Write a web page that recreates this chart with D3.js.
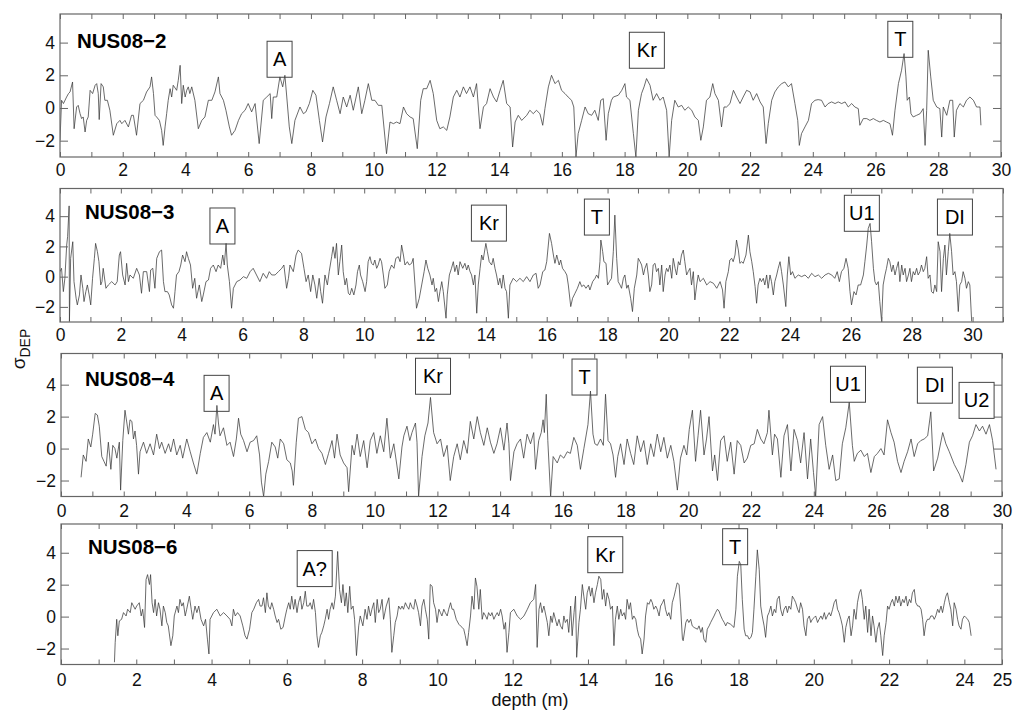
<!DOCTYPE html>
<html>
<head>
<meta charset="utf-8">
<script src="https://cdn.jsdelivr.net/npm/d3@7"></script>
<style>
  body { margin: 0; background: #fff; }
  svg { display: block; font-family: "Liberation Sans", Arial, sans-serif; }
</style>
</head>
<body>
<svg id="chart" width="1016" height="715"></svg>
<script>
// Standardised deposition signal (sigma_DEP) against depth (m), one series per core.
// Each entry: [depth, sigma].
const nus08_2 = [
[0.00,-1.98],[0.05,0.47],[0.11,0.27],[0.21,0.67],[0.27,0.88],[0.32,0.98],[0.40,1.59],[0.45,-1.27],[0.53,0.06],[0.58,0.16],
[0.64,-0.35],[0.69,-0.65],[0.74,-0.55],[0.80,-1.47],[0.85,-0.76],[0.90,-0.55],[0.96,1.08],[1.04,0.88],[1.12,1.39],[1.17,1.49],
[1.22,0.88],[1.25,-0.71],[1.31,1.49],[1.38,1.29],[1.43,0.47],[1.51,0.47],[1.59,-0.14],[1.70,-1.67],[1.81,-0.96],[1.91,-0.76],
[1.97,-0.96],[2.07,-0.76],[2.18,-1.16],[2.28,-0.45],[2.34,-0.45],[2.44,-1.67],[2.55,0.27],[2.66,0.47],[2.76,0.98],[2.87,1.29],
[2.92,1.90],[2.98,0.88],[3.03,-0.45],[3.08,-0.55],[3.17,-0.76],[3.24,-1.37],[3.29,-2.29],[3.35,-1.16],[3.40,-0.35],[3.45,0.47],
[3.51,1.18],[3.56,0.67],[3.61,1.39],[3.72,1.08],[3.77,1.69],[3.83,2.61],[3.88,0.27],[3.93,1.39],[3.99,0.67],[4.04,1.08],
[4.09,1.29],[4.14,0.88],[4.20,1.29],[4.30,0.47],[4.41,-1.27],[4.52,-0.76],[4.62,-0.55],[4.73,0.47],[4.84,0.47],[4.94,0.98],
[5.05,1.90],[5.10,0.88],[5.21,0.47],[5.29,-0.14],[5.40,-1.16],[5.47,-1.67],[5.58,-1.37],[5.69,-0.76],[5.79,-0.35],[5.90,-0.14],
[6.00,0.27],[6.11,-0.24],[6.22,0.27],[6.35,-2.18],[6.48,0.47],[6.59,0.67],[6.70,0.88],[6.75,-0.65],[6.80,0.67],[6.91,0.67],
[7.01,1.90],[7.10,1.29],[7.17,2.00],[7.23,0.67],[7.31,-1.16],[7.39,-2.18],[7.49,-0.76],[7.65,0.06],[7.76,-0.35],[7.84,-0.24],
[7.95,0.27],[8.06,1.08],[8.16,0.78],[8.27,-0.76],[8.37,-2.08],[8.48,-0.55],[8.59,0.27],[8.71,1.29],[8.82,0.47],[8.93,-0.35],
[9.03,0.67],[9.14,0.06],[9.25,0.78],[9.35,-0.14],[9.51,1.29],[9.62,-0.35],[9.72,0.47],[9.83,1.49],[9.94,0.47],[10.04,0.47],
[10.15,0.16],[10.26,0.16],[10.41,-2.80],[10.52,-0.86],[10.63,-0.96],[10.73,-0.86],[10.84,-0.96],[10.95,0.06],[11.05,-0.35],[11.16,-0.55],
[11.26,-0.65],[11.39,-2.49],[11.50,0.47],[11.58,1.18],[11.69,1.18],[11.80,1.69],[11.90,0.88],[12.01,-0.76],[12.11,-1.27],[12.22,-1.16],
[12.33,-1.37],[12.43,-0.55],[12.54,0.67],[12.65,1.08],[12.75,0.67],[12.86,1.29],[12.96,0.88],[13.07,1.29],[13.18,0.67],[13.28,1.49],
[13.39,-1.27],[13.50,0.06],[13.60,0.27],[13.71,1.18],[13.82,0.67],[13.92,0.37],[14.03,1.08],[14.13,1.69],[14.24,0.27],[14.35,0.06],
[14.43,-2.39],[14.51,-0.86],[14.61,-0.45],[14.72,-0.76],[14.88,-0.45],[14.98,-0.14],[15.09,-0.35],[15.19,-0.14],[15.30,-0.35],[15.39,-1.06],
[15.46,-0.04],[15.57,1.29],[15.67,2.00],[15.78,1.49],[15.89,1.69],[15.99,1.08],[16.10,0.88],[16.20,0.67],[16.31,0.47],[16.38,0.06],
[16.45,-3.0],[16.52,-1.57],[16.63,-0.76],[16.74,0.06],[16.84,-0.35],[16.95,-0.45],[17.05,-0.14],[17.16,-0.76],[17.24,0.47],[17.32,0.57],
[17.41,-1.98],[17.48,-0.35],[17.58,0.47],[17.64,0.67],[17.80,0.78],[17.91,1.08],[18.01,1.49],[18.06,0.67],[18.17,0.47],[18.28,-1.57],
[18.36,-3.0],[18.44,-0.14],[18.54,0.88],[18.62,1.29],[18.70,1.80],[18.81,1.39],[18.91,0.47],[19.02,0.88],[19.13,0.47],[19.23,0.67],
[19.34,-0.14],[19.42,-3.0],[19.50,-0.76],[19.60,0.47],[19.71,0.06],[19.82,0.16],[19.92,-0.14],[20.03,0.06],[20.14,-0.14],[20.24,-0.55],
[20.35,-0.76],[20.43,-1.98],[20.51,-1.16],[20.61,0.47],[20.72,0.67],[20.81,1.49],[20.88,0.88],[20.99,0.47],[21.09,-1.16],[21.17,0.06],
[21.25,0.06],[21.36,0.27],[21.47,1.08],[21.57,0.67],[21.68,0.27],[21.78,0.67],[21.89,1.08],[22.00,0.98],[22.10,0.47],[22.21,0.88],
[22.32,0.37],[22.42,0.06],[22.51,-2.18],[22.58,-0.96],[22.69,0.47],[22.79,0.98],[22.90,1.29],[23.01,1.49],[23.11,1.59],[23.22,1.29],
[23.32,1.49],[23.43,0.27],[23.52,-0.76],[23.57,-2.29],[23.64,-1.57],[23.75,-1.16],[23.86,-0.76],[23.96,0.27],[24.07,0.47],[24.17,0.51],
[24.28,0.47],[24.39,0.06],[24.49,0.27],[24.60,0.37],[24.71,0.27],[24.81,0.37],[24.92,0.27],[25.03,0.37],[25.13,0.06],[25.24,0.27],
[25.34,0.06],[25.45,-0.04],[25.50,-1.06],[25.61,-0.65],[25.72,-0.65],[25.82,-0.76],[25.93,-0.65],[26.03,-0.76],[26.14,-0.86],[26.25,-0.76],
[26.35,-0.86],[26.46,-0.96],[26.54,-1.67],[26.62,-0.14],[26.73,1.49],[26.83,2.31],[26.91,3.33],[26.97,1.90],[27.01,0.47],[27.08,0.67],
[27.13,-0.35],[27.20,-0.55],[27.31,-0.45],[27.42,-0.35],[27.52,-0.04],[27.58,-2.29],[27.63,-0.14],[27.68,3.53],[27.76,1.90],[27.84,0.47],
[27.95,0.06],[28.05,-0.04],[28.11,-1.78],[28.16,0.06],[28.27,-0.45],[28.37,0.47],[28.46,0.47],[28.51,-1.78],[28.58,-0.14],[28.69,0.27],
[28.80,0.06],[28.90,0.47],[29.01,0.67],[29.12,0.47],[29.22,0.06],[29.33,0.06],[29.36,-1.06]
];

const nus08_3 = [
[0.00,0.33],[0.05,0.55],[0.11,-0.99],[0.16,-0.11],[0.22,2.09],[0.25,2.64],[0.30,4.68],[0.31,-2.97],[0.35,1.21],[0.42,2.31],
[0.46,-0.33],[0.53,-1.43],[0.57,-1.87],[0.64,-1.21],[0.69,0.11],[0.75,-0.77],[0.79,-1.65],[0.85,-0.99],[0.90,-0.55],[0.96,-1.21],
[1.01,-1.87],[1.07,-0.11],[1.13,1.21],[1.17,2.20],[1.23,1.65],[1.28,0.99],[1.34,-0.55],[1.38,-0.33],[1.42,0.55],[1.51,-0.77],
[1.59,-0.55],[1.70,-0.33],[1.81,-0.55],[1.88,-0.33],[1.95,1.43],[1.99,1.65],[2.06,0.11],[2.14,-0.55],[2.19,0.88],[2.25,-0.33],
[2.30,0.11],[2.41,-0.11],[2.52,0.55],[2.61,0.11],[2.68,-1.10],[2.74,0.33],[2.85,0.33],[2.94,-0.99],[2.98,0.44],[3.05,0.55],
[3.12,-0.77],[3.18,1.21],[3.27,1.65],[3.34,1.76],[3.40,-0.33],[3.45,-0.99],[3.53,-0.99],[3.59,-1.21],[3.67,-1.87],[3.73,-2.09],
[3.78,-0.99],[3.83,0.11],[3.91,0.33],[3.97,0.77],[4.03,1.43],[4.11,0.99],[4.16,1.65],[4.22,1.21],[4.29,0.77],[4.36,-0.77],
[4.43,-0.11],[4.49,-1.43],[4.58,-0.55],[4.66,-1.65],[4.71,-1.21],[4.80,-0.33],[4.88,-0.22],[4.95,0.55],[5.04,0.77],[5.13,0.33],
[5.20,0.77],[5.28,0.55],[5.35,1.43],[5.40,0.77],[5.46,2.20],[5.50,0.77],[5.57,-0.33],[5.64,-2.09],[5.70,-0.77],[5.81,-0.33],
[5.92,-0.22],[6.03,0.00],[6.14,-0.11],[6.25,0.33],[6.35,0.55],[6.46,0.11],[6.57,-0.33],[6.68,0.22],[6.79,-0.11],[6.88,0.33],
[6.96,0.11],[7.07,0.11],[7.18,0.33],[7.29,0.55],[7.36,0.77],[7.45,-0.77],[7.51,-0.11],[7.56,0.77],[7.67,0.33],[7.76,1.43],
[7.83,1.76],[7.94,1.54],[8.02,0.55],[8.09,-0.33],[8.16,0.11],[8.24,-0.99],[8.31,0.11],[8.38,-0.55],[8.44,-1.43],[8.52,-0.11],
[8.57,-0.99],[8.63,-1.76],[8.71,0.11],[8.79,-0.55],[8.85,0.33],[8.93,1.32],[8.98,1.98],[9.04,1.21],[9.09,2.20],[9.15,0.11],
[9.20,0.99],[9.26,2.09],[9.31,0.33],[9.37,-0.55],[9.42,-0.11],[9.48,-1.10],[9.53,-1.21],[9.59,-0.77],[9.66,-1.21],[9.73,-0.55],
[9.78,0.33],[9.84,0.77],[9.88,0.11],[9.95,-0.33],[10.03,-0.99],[10.08,-0.33],[10.13,0.99],[10.19,1.32],[10.24,0.88],[10.30,0.77],
[10.35,1.10],[10.41,0.55],[10.46,0.77],[10.52,1.21],[10.57,0.99],[10.63,0.11],[10.68,-0.77],[10.76,-0.55],[10.82,0.33],[10.90,0.77],
[10.98,0.55],[11.04,1.21],[11.12,1.32],[11.18,0.99],[11.23,2.09],[11.29,1.43],[11.34,0.77],[11.42,0.99],[11.48,0.77],[11.56,0.88],
[11.61,1.21],[11.67,-0.55],[11.72,-2.09],[11.81,-1.43],[11.89,-0.55],[11.97,0.33],[12.03,1.10],[12.09,0.55],[12.16,0.11],[12.23,-0.55],
[12.27,-0.11],[12.33,-0.99],[12.38,-0.77],[12.44,-1.65],[12.49,-0.99],[12.55,-0.33],[12.60,-0.99],[12.69,-2.75],[12.73,-1.21],[12.80,0.11],
[12.87,0.55],[12.93,0.99],[12.98,0.33],[13.04,0.77],[13.09,0.11],[13.15,0.99],[13.24,0.55],[13.31,0.88],[13.37,0.44],[13.42,0.77],
[13.48,0.33],[13.53,0.11],[13.59,-0.55],[13.64,0.11],[13.70,-2.42],[13.75,-0.55],[13.81,0.55],[13.86,1.43],[13.91,1.10],[14.00,2.20],
[14.05,1.65],[14.11,0.99],[14.19,0.77],[14.24,1.21],[14.30,0.55],[14.35,0.11],[14.41,-0.55],[14.46,-0.11],[14.52,-0.77],[14.57,0.11],
[14.63,-0.77],[14.68,-0.99],[14.74,-2.75],[14.79,-0.55],[14.90,-0.11],[15.01,-0.33],[15.12,-0.11],[15.23,-0.33],[15.34,0.00],[15.45,-0.33],
[15.56,0.11],[15.65,0.22],[15.72,-0.77],[15.78,-0.55],[15.87,0.33],[15.94,0.44],[16.00,0.99],[16.09,2.86],[16.16,2.20],[16.22,1.43],
[16.27,0.88],[16.33,1.43],[16.41,0.77],[16.46,1.10],[16.52,0.55],[16.60,0.33],[16.66,0.11],[16.71,-0.55],[16.79,-1.98],[16.85,-1.43],
[16.93,-1.10],[17.01,-0.77],[17.09,-0.33],[17.15,-0.66],[17.22,-0.55],[17.29,-0.77],[17.37,-0.55],[17.42,-0.88],[17.51,-0.33],[17.59,-0.11],
[17.64,0.11],[17.70,-0.11],[17.75,0.99],[17.78,2.42],[17.84,1.65],[17.88,0.99],[17.95,0.88],[18.00,-0.55],[18.06,-0.33],[18.13,-0.11],
[18.19,1.65],[18.24,4.07],[18.30,1.21],[18.35,-0.33],[18.41,-0.55],[18.46,-0.77],[18.52,-0.11],[18.57,0.11],[18.63,-0.77],[18.68,-0.55],
[18.76,-1.43],[18.82,-2.31],[18.88,-0.77],[18.96,0.11],[19.01,1.21],[19.07,0.99],[19.12,0.77],[19.18,0.11],[19.23,0.55],[19.29,0.88],
[19.34,0.11],[19.39,-0.99],[19.45,-0.55],[19.50,0.77],[19.56,0.88],[19.61,0.33],[19.67,0.55],[19.72,-0.55],[19.78,0.77],[19.83,-0.99],
[19.89,0.11],[19.94,0.55],[19.99,0.33],[20.05,0.77],[20.11,-0.11],[20.16,1.21],[20.22,0.55],[20.27,0.11],[20.33,0.99],[20.38,0.77],
[20.43,1.43],[20.49,1.76],[20.54,0.99],[20.60,0.11],[20.65,0.33],[20.71,0.55],[20.76,-0.55],[20.82,0.33],[20.87,-1.54],[20.93,-0.55],
[20.98,0.11],[21.04,-0.33],[21.15,-0.11],[21.26,-0.55],[21.37,-0.33],[21.48,-0.44],[21.59,-0.77],[21.70,-0.33],[21.78,-0.88],[21.83,-2.09],
[21.89,-0.33],[21.97,0.33],[22.02,1.10],[22.08,1.21],[22.13,0.99],[22.19,1.43],[22.24,2.42],[22.30,1.76],[22.35,0.88],[22.41,0.99],
[22.46,0.88],[22.55,1.43],[22.63,2.75],[22.68,1.65],[22.74,0.99],[22.79,0.33],[22.85,-0.66],[22.90,-1.76],[22.95,-0.55],[23.01,-0.11],
[23.06,-0.33],[23.12,-0.11],[23.17,-0.55],[23.23,0.11],[23.28,-0.77],[23.34,0.11],[23.39,-0.33],[23.45,-1.21],[23.50,-0.33],[23.56,0.11],
[23.61,0.55],[23.67,0.99],[23.72,0.33],[23.78,-0.55],[23.86,-1.98],[23.91,0.11],[23.96,1.32],[24.02,0.11],[24.08,0.33],[24.16,-0.11],
[24.27,0.11],[24.38,0.00],[24.49,0.11],[24.60,-0.11],[24.71,0.22],[24.82,0.00],[24.93,0.11],[25.04,-0.11],[25.15,0.11],[25.26,0.22],
[25.37,0.11],[25.47,-0.11],[25.55,0.33],[25.62,-0.33],[25.69,0.33],[25.77,0.55],[25.84,1.21],[25.91,0.55],[25.97,-0.99],[26.02,-1.87],
[26.10,-0.99],[26.17,-1.21],[26.24,-0.55],[26.32,-0.55],[26.41,0.11],[26.46,0.99],[26.52,2.09],[26.57,3.19],[26.63,3.52],[26.68,2.31],
[26.74,0.55],[26.79,-0.33],[26.84,-0.55],[26.90,-0.33],[26.95,-1.65],[27.01,-2.97],[27.06,-0.55],[27.12,0.11],[27.17,0.55],[27.23,1.21],
[27.28,0.99],[27.34,0.33],[27.39,0.77],[27.45,0.11],[27.50,0.55],[27.56,0.99],[27.61,-0.33],[27.67,0.77],[27.72,0.11],[27.78,0.55],
[27.83,-0.33],[27.89,0.11],[27.94,0.55],[27.99,-0.33],[28.05,0.33],[28.10,0.11],[28.16,0.55],[28.21,0.11],[28.27,0.33],[28.32,0.77],
[28.38,0.33],[28.43,0.55],[28.49,1.32],[28.54,-0.11],[28.60,0.11],[28.65,-0.99],[28.71,-1.10],[28.76,-0.55],[28.82,-0.99],[28.87,2.31],
[28.93,1.65],[28.98,-0.99],[29.04,1.21],[29.09,2.09],[29.14,0.11],[29.20,1.65],[29.25,2.86],[29.31,1.65],[29.36,0.11],[29.42,0.33],
[29.47,-0.33],[29.53,-2.31],[29.58,-0.55],[29.64,-0.33],[29.69,0.33],[29.75,-0.11],[29.80,-0.77],[29.86,-0.33],[29.91,-0.55],[29.97,-2.97]
];

const nus08_4 = [
[0.64,-1.8],[0.71,-0.4],[0.80,-0.8],[0.87,0.6],[0.95,0.1],[1.01,0.9],[1.09,2.2],[1.16,2.1],[1.22,1.4],[1.30,-0.5],
[1.37,-0.8],[1.44,-1.1],[1.51,0.4],[1.59,-1.3],[1.65,0.2],[1.72,0.0],[1.78,-0.6],[1.86,0.4],[1.90,-2.6],[1.97,0.5],
[2.04,2.4],[2.10,1.6],[2.15,0.9],[2.20,1.8],[2.26,1.7],[2.31,0.6],[2.36,1.1],[2.41,0.2],[2.47,-1.6],[2.52,-0.2],
[2.63,0.4],[2.73,-0.3],[2.84,0.3],[2.95,-0.4],[3.05,0.9],[3.14,0.0],[3.21,0.4],[3.32,-0.3],[3.43,0.3],[3.50,-0.2],
[3.59,0.6],[3.69,-0.4],[3.80,0.2],[3.88,-0.6],[4.01,0.6],[4.12,-0.2],[4.22,-0.9],[4.33,-1.6],[4.44,-0.3],[4.54,0.7],
[4.65,1.0],[4.76,0.4],[4.86,1.5],[4.91,0.9],[4.97,2.7],[5.02,1.6],[5.07,0.8],[5.18,1.3],[5.29,0.2],[5.39,0.4],
[5.50,-0.5],[5.59,0.6],[5.66,1.9],[5.73,0.9],[5.82,0.5],[5.93,-0.2],[6.03,0.4],[6.14,0.5],[6.24,0.8],[6.33,-0.4],
[6.39,-2.1],[6.46,-3.0],[6.53,-1.6],[6.62,-0.8],[6.72,0.4],[6.83,0.1],[6.91,-0.6],[6.99,0.6],[7.10,0.3],[7.20,-0.7],
[7.31,-0.9],[7.37,-1.4],[7.41,-2.3],[7.50,0.4],[7.57,1.9],[7.68,2.0],[7.79,1.2],[7.89,1.0],[8.00,0.3],[8.11,0.6],
[8.21,0.0],[8.32,-0.3],[8.43,-1.0],[8.53,-0.3],[8.64,0.5],[8.72,-0.6],[8.80,0.9],[8.90,-0.4],[9.01,-0.9],[9.12,-1.2],
[9.17,-2.7],[9.28,0.2],[9.35,-0.4],[9.44,0.9],[9.54,-0.5],[9.65,0.5],[9.76,-1.2],[9.86,0.5],[9.97,1.0],[10.07,-0.3],
[10.18,0.8],[10.29,-0.2],[10.39,1.9],[10.50,-0.6],[10.61,0.3],[10.77,-1.9],[10.87,0.1],[10.93,0.8],[11.03,1.4],[11.12,0.5],
[11.19,1.0],[11.30,1.6],[11.35,0.4],[11.40,-3.0],[11.51,-0.5],[11.60,0.8],[11.70,1.6],[11.78,3.2],[11.88,1.0],[11.99,0.3],
[12.10,0.6],[12.20,-0.5],[12.31,0.2],[12.41,-2.0],[12.52,-0.5],[12.63,0.3],[12.73,-0.7],[12.84,0.5],[12.95,-0.3],[13.05,1.7],
[13.16,0.6],[13.27,2.0],[13.37,1.0],[13.48,0.2],[13.59,1.3],[13.69,0.4],[13.80,-0.3],[13.90,0.3],[14.01,1.3],[14.12,-0.1],
[14.22,1.6],[14.28,0.3],[14.33,-2.0],[14.44,-0.2],[14.54,0.3],[14.65,0.6],[14.75,-0.6],[14.86,0.9],[14.97,0.3],[15.07,1.0],
[15.13,-1.3],[15.23,0.5],[15.31,1.0],[15.37,1.8],[15.41,1.0],[15.47,3.4],[15.52,0.5],[15.61,-3.0],[15.69,-0.5],[15.82,-0.9],
[15.92,-0.4],[16.03,-0.6],[16.14,-0.2],[16.24,-0.3],[16.35,0.7],[16.46,0.2],[16.56,-1.3],[16.67,0.0],[16.80,1.5],[16.88,3.6],
[16.96,0.9],[17.02,0.3],[17.10,0.2],[17.20,0.6],[17.29,0.2],[17.36,3.4],[17.44,0.5],[17.52,0.3],[17.60,-0.4],[17.68,-1.8],
[17.75,-0.5],[17.84,0.3],[17.95,-1.0],[18.05,0.6],[18.16,-0.3],[18.26,-1.0],[18.37,0.8],[18.48,-0.2],[18.58,0.5],[18.69,-1.0],
[18.80,0.3],[18.90,-0.5],[19.01,0.9],[19.12,-0.2],[19.22,0.7],[19.33,-0.6],[19.44,0.2],[19.54,-0.8],[19.65,-2.6],[19.75,-0.6],
[19.86,0.2],[19.95,-0.4],[20.03,1.2],[20.13,2.4],[20.23,-0.8],[20.31,0.8],[20.39,2.4],[20.50,-0.4],[20.58,0.6],[20.66,2.0],
[20.77,-1.4],[20.84,-0.4],[20.93,-2.0],[21.03,0.5],[21.14,0.8],[21.24,-0.8],[21.35,0.4],[21.46,-1.6],[21.56,0.5],[21.67,0.2],
[21.78,-0.9],[21.88,-0.6],[21.99,0.2],[22.10,0.3],[22.20,1.2],[22.31,0.6],[22.41,0.3],[22.52,1.0],[22.57,2.4],[22.68,-0.4],
[22.75,0.9],[22.84,0.6],[22.95,-1.8],[23.05,0.8],[23.16,1.5],[23.27,-1.4],[23.37,1.2],[23.48,0.5],[23.58,-0.9],[23.69,1.0],
[23.80,-1.9],[23.90,0.6],[23.99,-1.5],[24.06,-3.0],[24.17,1.5],[24.28,2.0],[24.38,0.2],[24.49,-1.3],[24.60,-0.4],[24.70,-2.0],
[24.81,-1.9],[24.91,0.3],[25.02,1.3],[25.13,2.9],[25.23,0.2],[25.29,-0.8],[25.39,-0.3],[25.50,-0.1],[25.61,-0.5],[25.71,-0.3],
[25.82,-1.5],[25.93,-0.5],[26.03,-0.3],[26.14,0.0],[26.24,-0.4],[26.35,1.8],[26.46,1.0],[26.56,0.4],[26.67,-0.8],[26.78,-1.5],
[26.88,-0.8],[26.99,-0.2],[27.10,0.6],[27.20,-0.5],[27.31,0.3],[27.41,0.5],[27.52,0.6],[27.63,0.8],[27.73,2.3],[27.82,-1.4],
[27.95,-0.6],[28.11,1.0],[28.21,0.3],[28.32,-0.2],[28.48,-1.0],[28.64,-1.6],[28.74,-2.1],[28.85,-1.0],[28.96,0.4],[29.06,0.8],
[29.17,1.5],[29.28,1.1],[29.38,1.4],[29.49,0.9],[29.60,1.5],[29.70,0.5],[29.81,-1.3]
];

const nus08_6 = [
[1.42,-2.86],[1.44,-1.61],[1.48,-0.17],[1.51,-1.20],[1.55,-0.27],[1.61,-0.17],[1.66,0.25],[1.73,0.04],[1.77,0.46],[1.84,0.25],
[1.88,0.87],[1.97,0.46],[2.01,0.66],[2.08,0.87],[2.13,0.04],[2.17,0.46],[2.22,-0.68],[2.26,2.32],[2.30,2.63],[2.35,2.01],
[2.38,2.63],[2.42,0.87],[2.46,0.25],[2.50,1.08],[2.54,0.04],[2.59,0.87],[2.63,0.46],[2.68,-0.58],[2.72,0.66],[2.77,0.25],
[2.81,-0.37],[2.85,-0.58],[2.92,-1.82],[2.97,-1.20],[3.01,0.04],[3.08,0.66],[3.12,0.25],[3.16,1.08],[3.21,0.66],[3.25,0.87],
[3.30,0.04],[3.34,0.46],[3.41,1.28],[3.46,0.46],[3.50,-0.17],[3.56,0.66],[3.61,0.25],[3.66,0.66],[3.72,-0.17],[3.79,-0.58],
[3.84,-0.17],[3.89,-1.41],[3.93,-2.34],[3.96,-0.17],[4.05,0.25],[4.14,0.46],[4.23,0.04],[4.32,0.25],[4.41,0.04],[4.49,-0.17],
[4.54,-0.58],[4.58,0.46],[4.63,0.04],[4.69,0.25],[4.76,0.04],[4.83,-0.58],[4.89,-1.20],[4.94,-1.41],[5.01,-0.79],[5.07,0.25],
[5.12,0.46],[5.19,0.87],[5.25,1.08],[5.29,0.66],[5.34,0.66],[5.38,1.18],[5.43,0.25],[5.47,1.49],[5.51,0.66],[5.56,0.46],
[5.60,0.87],[5.65,0.46],[5.69,0.04],[5.74,-0.37],[5.78,-0.17],[5.84,-0.79],[5.90,-0.68],[5.96,0.04],[6.00,0.46],[6.05,0.87],
[6.09,0.46],[6.13,1.28],[6.18,0.46],[6.22,1.08],[6.27,0.25],[6.31,0.87],[6.36,1.28],[6.40,0.46],[6.45,0.87],[6.49,1.59],
[6.53,0.66],[6.58,0.66],[6.62,0.87],[6.67,0.46],[6.71,1.08],[6.76,0.25],[6.80,-1.20],[6.84,-1.93],[6.89,-1.20],[6.93,-0.99],
[6.98,-0.58],[7.02,-0.17],[7.07,0.46],[7.11,-0.17],[7.15,0.46],[7.20,0.87],[7.24,0.46],[7.29,1.28],[7.35,4.08],[7.40,1.70],
[7.45,0.87],[7.49,2.01],[7.54,0.66],[7.58,1.49],[7.62,0.25],[7.67,1.90],[7.71,0.46],[7.76,0.66],[7.80,-0.17],[7.85,-2.44],
[7.91,-0.58],[7.95,0.04],[8.02,-0.58],[8.08,0.46],[8.13,-0.17],[8.17,0.66],[8.22,0.04],[8.26,0.46],[8.31,0.87],[8.35,-0.37],
[8.40,1.08],[8.44,0.25],[8.48,0.46],[8.53,1.08],[8.57,-0.17],[8.64,0.66],[8.71,1.18],[8.75,-0.17],[8.79,-2.24],[8.84,-1.20],
[8.88,-0.37],[8.93,0.04],[8.97,0.66],[9.02,0.46],[9.06,0.66],[9.10,0.46],[9.15,0.87],[9.19,0.66],[9.24,0.46],[9.28,0.87],
[9.33,0.56],[9.37,0.46],[9.41,1.08],[9.46,0.66],[9.50,0.25],[9.55,-0.58],[9.59,0.66],[9.64,1.08],[9.68,0.46],[9.73,-0.17],
[9.77,-1.41],[9.81,2.01],[9.86,1.90],[9.90,0.87],[9.95,0.46],[9.99,-0.37],[10.04,0.46],[10.08,0.25],[10.12,0.04],[10.17,0.46],
[10.21,0.25],[10.26,0.04],[10.30,0.46],[10.35,0.87],[10.39,0.46],[10.43,0.46],[10.50,-0.17],[10.57,-0.48],[10.61,-0.58],[10.66,-0.68],
[10.70,-0.79],[10.74,-1.20],[10.79,-1.82],[10.83,-0.99],[10.88,0.04],[10.92,1.28],[10.97,0.46],[11.01,2.42],[11.05,1.90],[11.10,0.46],
[11.14,1.70],[11.19,-0.17],[11.23,0.25],[11.28,0.04],[11.32,-0.17],[11.36,0.25],[11.41,0.04],[11.45,0.25],[11.50,-0.17],[11.54,0.04],
[11.59,0.25],[11.63,0.04],[11.68,0.46],[11.72,0.04],[11.77,-0.79],[11.81,-0.37],[11.85,-2.24],[11.90,-0.99],[11.94,0.25],[12.03,0.46],
[12.12,0.04],[12.21,-0.17],[12.30,0.04],[12.39,0.46],[12.47,0.87],[12.56,1.08],[12.61,2.01],[12.65,-1.93],[12.70,0.46],[12.74,0.87],
[12.78,0.25],[12.83,0.66],[12.92,-0.37],[12.96,-1.20],[13.01,0.04],[13.05,-0.37],[13.09,0.25],[13.18,-0.58],[13.23,-0.17],[13.27,-0.58],
[13.32,-0.79],[13.36,0.04],[13.40,-0.37],[13.45,-0.17],[13.49,-0.99],[13.54,0.66],[13.58,-1.20],[13.63,0.25],[13.67,1.28],[13.70,-2.55],
[13.76,-0.37],[13.80,0.46],[13.85,2.01],[13.89,1.28],[13.94,0.46],[13.98,1.49],[14.03,1.90],[14.07,1.28],[14.11,1.80],[14.16,0.87],
[14.20,1.49],[14.25,2.01],[14.29,2.53],[14.34,2.32],[14.38,1.08],[14.42,1.70],[14.47,0.66],[14.51,1.49],[14.56,1.08],[14.60,0.46],
[14.65,0.66],[14.69,-1.82],[14.73,-0.17],[14.78,0.66],[14.82,-0.17],[14.87,0.46],[14.91,0.04],[14.96,0.25],[15.00,-0.17],[15.04,1.08],
[15.09,0.46],[15.13,0.87],[15.18,-0.17],[15.22,0.04],[15.27,-0.17],[15.31,-0.79],[15.35,-1.20],[15.40,-1.41],[15.44,-2.34],[15.49,-1.41],
[15.53,0.04],[15.58,0.87],[15.62,0.77],[15.67,1.08],[15.71,0.87],[15.75,0.46],[15.80,0.66],[15.84,0.46],[15.89,0.04],[15.93,0.66],
[15.98,0.87],[16.02,1.08],[16.06,0.46],[16.11,0.04],[16.15,0.25],[16.20,-0.17],[16.24,0.87],[16.29,1.28],[16.33,1.70],[16.37,2.11],
[16.42,2.01],[16.46,0.66],[16.51,-1.41],[16.53,-1.51],[16.60,-0.37],[16.64,-0.17],[16.68,-0.37],[16.73,-0.17],[16.77,-0.58],[16.82,-0.68],
[16.91,-0.79],[16.95,-0.58],[17.00,-0.99],[17.04,-0.68],[17.08,-1.41],[17.13,-1.61],[17.17,-0.79],[17.22,-0.58],[17.26,-0.37],[17.35,0.04],
[17.39,0.25],[17.44,0.46],[17.48,0.35],[17.53,0.04],[17.57,-0.17],[17.62,-0.37],[17.66,-0.58],[17.70,-0.37],[17.79,-0.48],[17.88,-0.68],
[17.93,0.46],[17.97,2.53],[18.02,3.46],[18.06,3.25],[18.10,1.08],[18.15,-0.79],[18.19,-1.20],[18.24,-1.20],[18.28,-1.41],[18.33,-1.30],
[18.37,-0.99],[18.41,0.46],[18.46,2.53],[18.50,4.18],[18.55,2.94],[18.59,0.66],[18.63,0.04],[18.68,-0.58],[18.72,-1.30],[18.77,0.04],
[18.81,0.25],[18.86,0.66],[18.90,0.04],[18.95,0.46],[18.99,0.25],[19.03,1.08],[19.08,1.28],[19.12,0.46],[19.17,0.04],[19.21,0.46],
[19.26,0.66],[19.30,0.25],[19.34,0.66],[19.39,0.46],[19.43,1.28],[19.48,1.08],[19.52,0.87],[19.57,0.46],[19.61,0.25],[19.65,0.87],
[19.70,0.46],[19.74,-0.58],[19.79,-1.20],[19.83,-0.17],[19.88,0.04],[19.92,-0.37],[19.96,-0.17],[20.01,-0.06],[20.05,0.04],[20.10,-0.37],
[20.14,-0.17],[20.19,0.04],[20.23,-0.17],[20.28,0.25],[20.32,-0.17],[20.36,0.04],[20.41,0.25],[20.45,0.04],[20.50,0.46],[20.54,0.87],
[20.59,1.08],[20.63,0.46],[20.67,0.25],[20.72,-0.17],[20.76,-0.58],[20.81,-1.61],[20.85,-0.68],[20.90,-0.17],[20.94,0.04],[20.99,-1.20],
[21.03,-0.58],[21.07,0.46],[21.12,-0.17],[21.16,0.87],[21.21,1.49],[21.25,1.70],[21.29,1.08],[21.34,-0.17],[21.38,0.66],[21.43,-0.99],
[21.47,0.46],[21.52,-1.20],[21.56,0.04],[21.60,-0.58],[21.65,-1.61],[21.69,-0.79],[21.74,-0.37],[21.78,-1.20],[21.83,-2.44],[21.87,-1.20],
[21.92,-0.37],[21.96,0.66],[22.00,0.46],[22.05,0.87],[22.09,1.08],[22.14,0.66],[22.18,1.28],[22.23,0.87],[22.27,1.28],[22.31,0.66],
[22.36,1.08],[22.40,0.87],[22.45,1.28],[22.49,0.66],[22.54,1.08],[22.58,0.87],[22.62,1.49],[22.67,1.70],[22.71,0.87],[22.76,0.66],
[22.80,0.66],[22.85,0.46],[22.89,-0.17],[22.93,-1.20],[22.98,-0.37],[23.02,-0.17],[23.07,-0.17],[23.11,0.04],[23.16,0.04],[23.20,-0.17],
[23.24,0.04],[23.29,0.46],[23.33,0.25],[23.38,0.66],[23.42,0.25],[23.47,0.87],[23.51,1.28],[23.55,1.49],[23.60,0.87],[23.64,0.46],
[23.69,-0.58],[23.73,0.87],[23.78,0.46],[23.82,-0.17],[23.86,-0.58],[23.91,-0.79],[23.95,-0.17],[24.00,0.04],[24.04,-0.06],[24.09,-0.17],
[24.13,-0.37],[24.18,-1.20]
];

// Event labels per core: [text, depth of the box centre, sigma at the box's lower edge]
const marks2 = [["A", 7.0, 1.88], ["Kr", 18.71, 2.43], ["T", 26.79, 3.1]];
const marks3 = [["A", 5.34, 2.16], ["Kr", 14.1, 2.35], ["T", 17.65, 2.75], ["U1", 26.36, 3.0], ["DI", 29.42, 2.75]];
const marks4 = [["A", 4.96, 2.33], ["Kr", 11.86, 3.4], ["T", 16.69, 3.35], ["U1", 25.09, 2.9], ["DI", 27.86, 2.84], ["U2", 29.19, 1.89]];
const marks6 = [["A?", 6.74, 1.88], ["Kr", 14.46, 2.75], ["T", 17.91, 3.25]];

const coreNames = ["NUS08-2", "NUS08-3", "NUS08-4", "NUS08-6"];
const depthLimits = [30, 31, 30, 25];
const sigmaTicks = [-2, 0, 2, 4];
const sigmaMin = -3;
const yLabelMain = "σ";
const yLabelSub = "DEP";
const xLabel = "depth (m)";

const seriesList = [nus08_2, nus08_3, nus08_4, nus08_6];
const markList = [marks2, marks3, marks4, marks6];

// Panel frames (pixel boxes) and the sigma value reached at each frame's top edge
const frames = [
  { left: 60, right: 1001, top: 14,    bottom: 157,   sigmaTop: 5.75, labelPad: 7 },
  { left: 60, right: 1003, top: 188.5, bottom: 322,   sigmaTop: 5.83, labelPad: 7 },
  { left: 61, right: 1002, top: 353.5, bottom: 496.5, sigmaTop: 5.95, labelPad: 8 },
  { left: 61, right: 1002, top: 524,   bottom: 664.5, sigmaTop: 5.8,  labelPad: 9 }
];
const titleOffsets = [[17, 34], [25, 30], [24, 32], [27, 30]];

const svg = d3.select("#chart");
const axisColor = "#666";
const textColor = "#111";

frames.forEach((f, i) => {
  const xMax = depthLimits[i];
  const x = d3.scaleLinear().domain([0, xMax]).range([f.left, f.right]);
  const y = d3.scaleLinear().domain([sigmaMin, f.sigmaTop]).range([f.bottom, f.top]);
  const g = svg.append("g");

  const clipId = "clip" + i;
  g.append("clipPath").attr("id", clipId)
    .append("rect").attr("x", f.left).attr("y", f.top)
    .attr("width", f.right - f.left).attr("height", f.bottom - f.top);

  // signal trace
  g.append("path")
    .datum(seriesList[i])
    .attr("clip-path", `url(#${clipId})`)
    .attr("fill", "none")
    .attr("stroke", "#3a3a3a")
    .attr("stroke-width", 0.75)
    .attr("stroke-linejoin", "round")
    .attr("d", d3.line().x(d => x(d[0])).y(d => y(d[1])));

  // axes with inward ticks on all four sides
  const xTicks = d3.range(0, xMax + 1, 1);
  const fmtX = d => (d % 2 === 0 || d === xMax) && !(xMax === 31 && d === 31) ? d : "";
  const bottomAxis = g.append("g").attr("transform", `translate(0,${f.bottom})`)
    .call(d3.axisBottom(x).tickValues(xTicks).tickSizeInner(-5).tickSizeOuter(0)
      .tickPadding(f.labelPad).tickFormat(fmtX));
  const topAxis = g.append("g").attr("transform", `translate(0,${f.top})`)
    .call(d3.axisTop(x).tickValues(xTicks).tickSizeInner(-5).tickSizeOuter(0).tickFormat(""));
  const leftAxis = g.append("g").attr("transform", `translate(${f.left},0)`)
    .call(d3.axisLeft(y).tickValues(sigmaTicks).tickSizeInner(-8).tickSizeOuter(0)
      .tickPadding(5).tickFormat(d => d < 0 ? "\u2212" + Math.abs(d) : d));
  const rightAxis = g.append("g").attr("transform", `translate(${f.right},0)`)
    .call(d3.axisRight(y).tickValues(sigmaTicks).tickSizeInner(-8).tickSizeOuter(0).tickFormat(""));

  [bottomAxis, topAxis, leftAxis, rightAxis].forEach(a => {
    a.select(".domain").remove();
    a.selectAll(".tick line").attr("stroke", axisColor).attr("stroke-width", 1);
    a.selectAll("text").attr("fill", textColor).attr("font-size", 17.5)
      .attr("font-family", "'Liberation Sans', Arial, sans-serif");
  });

  g.append("rect")
    .attr("x", f.left).attr("y", f.top)
    .attr("width", f.right - f.left).attr("height", f.bottom - f.top)
    .attr("fill", "none").attr("stroke", axisColor).attr("stroke-width", 1.2);

  // core name
  g.append("text")
    .attr("x", f.left + titleOffsets[i][0]).attr("y", f.top + titleOffsets[i][1])
    .attr("font-size", 20.5).attr("font-weight", "bold").attr("fill", "#000")
    .text(coreNames[i].replace("-", "\u2212"));

  // boxed event labels
  const boxH = 36;
  markList[i].forEach(([label, depth, sigma]) => {
    const w = label.length > 1 ? 35 : 25;
    const cx = x(depth), yb = y(sigma);
    g.append("rect")
      .attr("x", cx - w / 2).attr("y", yb - boxH).attr("width", w).attr("height", boxH)
      .attr("fill", "none").attr("stroke", "#444").attr("stroke-width", 1);
    g.append("text")
      .attr("x", cx).attr("y", yb - boxH / 2 + 7)
      .attr("text-anchor", "middle").attr("font-size", 20).attr("fill", "#000")
      .text(label);
  });
});

// shared axis titles
svg.append("text")
  .attr("transform", "translate(25,349) rotate(-90)")
  .attr("text-anchor", "middle").attr("font-size", 19).attr("fill", textColor)
  .call(t => {
    t.append("tspan").text(yLabelMain);
    t.append("tspan").attr("dy", 5).attr("font-size", 14).text(yLabelSub);
  });

svg.append("text")
  .attr("x", 530).attr("y", 706)
  .attr("text-anchor", "middle").attr("font-size", 18).attr("fill", textColor)
  .text(xLabel);
</script>
</body>
</html>
